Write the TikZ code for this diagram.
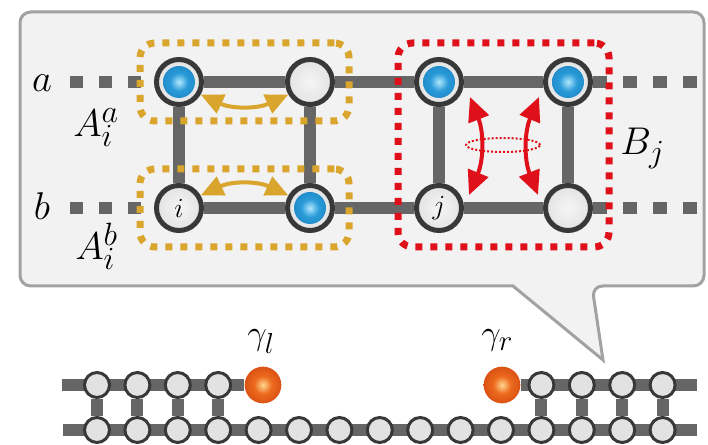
\documentclass[tikz,border=0pt]{standalone}
\usepackage{graphicx}
\usetikzlibrary{arrows.meta,backgrounds,fit,positioning}

\definecolor{railgray}{HTML}{666666}
\definecolor{ringgray}{HTML}{383838}
\definecolor{boxgold}{HTML}{DAA52C}
\definecolor{boxred}{HTML}{E0101A}
\definecolor{panelfill}{HTML}{F2F2F2}
\definecolor{paneldraw}{HTML}{A2A2A2}
\definecolor{ladderfill}{HTML}{E2E2E2}
% shading colours
\definecolor{spinhi}{HTML}{B0E8FF}
\definecolor{spinmid}{HTML}{2A9AD8}
\definecolor{spinlo}{HTML}{0E70B0}
\definecolor{spindk}{HTML}{084A7A}
\definecolor{sitehi}{HTML}{F5F5F5}
\definecolor{sitemid}{HTML}{E2E2E2}
\definecolor{sitelo}{HTML}{B8B8B8}
\definecolor{sitedk}{HTML}{8A8A8A}
\definecolor{majhi}{HTML}{FFD890}
\definecolor{majmid}{HTML}{EC6A1E}
\definecolor{majlo}{HTML}{CC3E0C}
\definecolor{majdk}{HTML}{9A2205}

\pgfdeclareradialshading{spinball}{\pgfpoint{0bp}{0bp}}{color(0bp)=(spinhi);color(10bp)=(spinmid);color(36bp)=(spinlo);color(50bp)=(spindk)}
\pgfdeclareradialshading{sitegray}{\pgfpoint{0bp}{0bp}}{color(0bp)=(sitehi);color(26bp)=(sitemid);color(40bp)=(sitelo);color(50bp)=(sitedk)}
\pgfdeclareradialshading{majball}{\pgfpoint{0bp}{0bp}}{color(0bp)=(majhi);color(12bp)=(majmid);color(36bp)=(majlo);color(50bp)=(majdk)}

\newcommand{\biglbl}[1]{\scalebox{1.166}{\Huge #1}}
\newcommand{\gamlbl}[1]{\scalebox{1.045}{\Huge #1}}

\begin{document}
\begin{tikzpicture}[x=0.75pt,y=-0.75pt,
	site/.style={circle,minimum size=33.75pt,inner sep=0pt,draw=ringgray,line width=3.75pt,
		shading=sitegray,font=\huge},
	spin/.style={site,path picture={\shade[shading=spinball] (path picture bounding box.center) circle (12pt);}},
	rung/.style={circle,minimum size=18.75pt,inner sep=0pt,draw=ringgray,line width=2.25pt,fill=ladderfill},
	majorana/.style={circle,minimum size=27.5pt,inner sep=0pt,shading=majball},
	rail/.style={draw=railgray,line width=9pt},
	goldbox/.style={draw=boxgold,line width=5.25pt,dash pattern=on 5.25pt off 6pt,rounded corners=11pt,inner sep=10.5pt},
	redbox/.style={draw=boxred,line width=5.25pt,dash pattern=on 5.25pt off 6pt,rounded corners=11pt,inner xsep=12pt,inner ysep=10.5pt},
	goldarrow/.style={draw=boxgold,line width=3pt,{Triangle[length=17pt,width=15pt]}-{Triangle[length=17pt,width=15pt]}},
	redarrow/.style={draw=boxred,line width=3pt,{Triangle[length=18pt,width=16pt]}-{Triangle[length=18pt,width=16pt]}},
	lbl/.style={inner sep=0pt}]
	\useasboundingbox (0,0) rectangle (708,445);
	% sites of the two legs
	\node[spin] (a1) at (179,82) {};
	\node[site] (a2) at (310,82) {};
	\node[spin] (a3) at (439,82) {};
	\node[spin] (a4) at (568,82) {};
	\node[site] (b1) at (179,208) {$i$};
	\node[spin] (b2) at (310,208) {};
	\node[site] (b3) at (439,208) {$j$};
	\node[site] (b4) at (568,208) {};
	\coordinate (aL) at (70,82);
	\coordinate (aR) at (697,82);
	\coordinate (bL) at (70,208);
	\coordinate (bR) at (697,208);
	% labels
	\node[lbl,anchor=base] (la) at (42,92) {\biglbl{$a$}};
	\node[lbl,anchor=base] (lb) at (42,220) {\biglbl{$b$}};
	\node[lbl,anchor=base west] (lAa) at (73,137) {\biglbl{$A_i^a$}};
	\node[lbl,anchor=base west] (lAb) at (75,260) {\biglbl{$A_i^b$}};
	\node[lbl,anchor=base west] (lB) at (620,155) {\biglbl{$B_j$}};
	% ladder below
	\foreach \k in {1,...,15}{
		\node[rung] (l\k) at ({97+40.4*(\k-1)},430) {};
	}
	\foreach \k in {1,2,3,4,12,13,14,15}{
		\node[rung] (u\k) at ({97+40.4*(\k-1)},385) {};
	}
	\node[majorana] (gl) at (263,385) {};
	\node[majorana] (gr) at (502,385) {};
	\node[lbl,anchor=base west] (lgl) at (247,345) {\gamlbl{$\gamma_l$}};
	\node[lbl,anchor=base west] (lgr) at (481,345) {\gamlbl{$\gamma_r$}};
	\coordinate (pL) at (62,385);
	\coordinate (pR) at (697,385);
	\coordinate (qL) at (63,430);
	\coordinate (qR) at (697,430);
	% callout and rails behind the sites
	\begin{scope}[on background layer]
		\draw[draw=paneldraw,fill=panelfill,line width=2.25pt,rounded corners=8pt]
			(300,12) -- (704,12) -- (704,286) -- (592,286) [sharp corners] -- (603,360)
			-- (513,286) [rounded corners=8pt] -- (20,286) -- (20,12) -- cycle;
		\foreach \r in {a,b}{
			\draw[rail] (\r1) -- (\r2);
			\draw[rail] (\r2) -- (\r3);
			\draw[rail] (\r3) -- (\r4);
			\draw[rail,dash pattern=on 9.75pt off 12pt] (\r L) -- (\r1);
			\draw[rail,dash pattern=on 10.5pt off 12pt] (\r R) -- (\r4);
		}
		\foreach \k in {1,...,4}{
			\draw[rail] (a\k) -- (b\k);
		}
		\draw[rail] (pL) -- (gl);
		\draw[rail] (gr) -- (pR);
		\draw[rail] (qL) -- (qR);
		\foreach \k in {1,2,3,4,12,13,14,15}{
			\draw[rail] (u\k) -- (l\k);
		}
	\end{scope}
	% regions
	\node[goldbox,fit=(a1)(a2)] (Aa) {};
	\node[goldbox,fit=(b1)(b2)] (Ab) {};
	\node[redbox,fit=(a3)(b4)] (Bj) {};
	% hopping arrows
	\draw[goldarrow] (a1.-30) to[bend right=25] (a2.-150);
	\draw[goldarrow] (b1.30) to[bend left=25] (b2.150);
	\coordinate (rl1) at (470,97);
	\coordinate (rl2) at (469,195);
	\coordinate (rr1) at (539,97);
	\coordinate (rr2) at (538,195);
	\draw[redarrow] (rl1) to[bend left=22] (rl2);
	\draw[redarrow] (rr1) to[bend right=22] (rr2);
	\draw[draw=boxred,line width=1.5pt,dash pattern=on 1.5pt off 1.5pt] (503,145) ellipse [x radius=27.75pt,y radius=5.25pt];
\end{tikzpicture}
\end{document}
